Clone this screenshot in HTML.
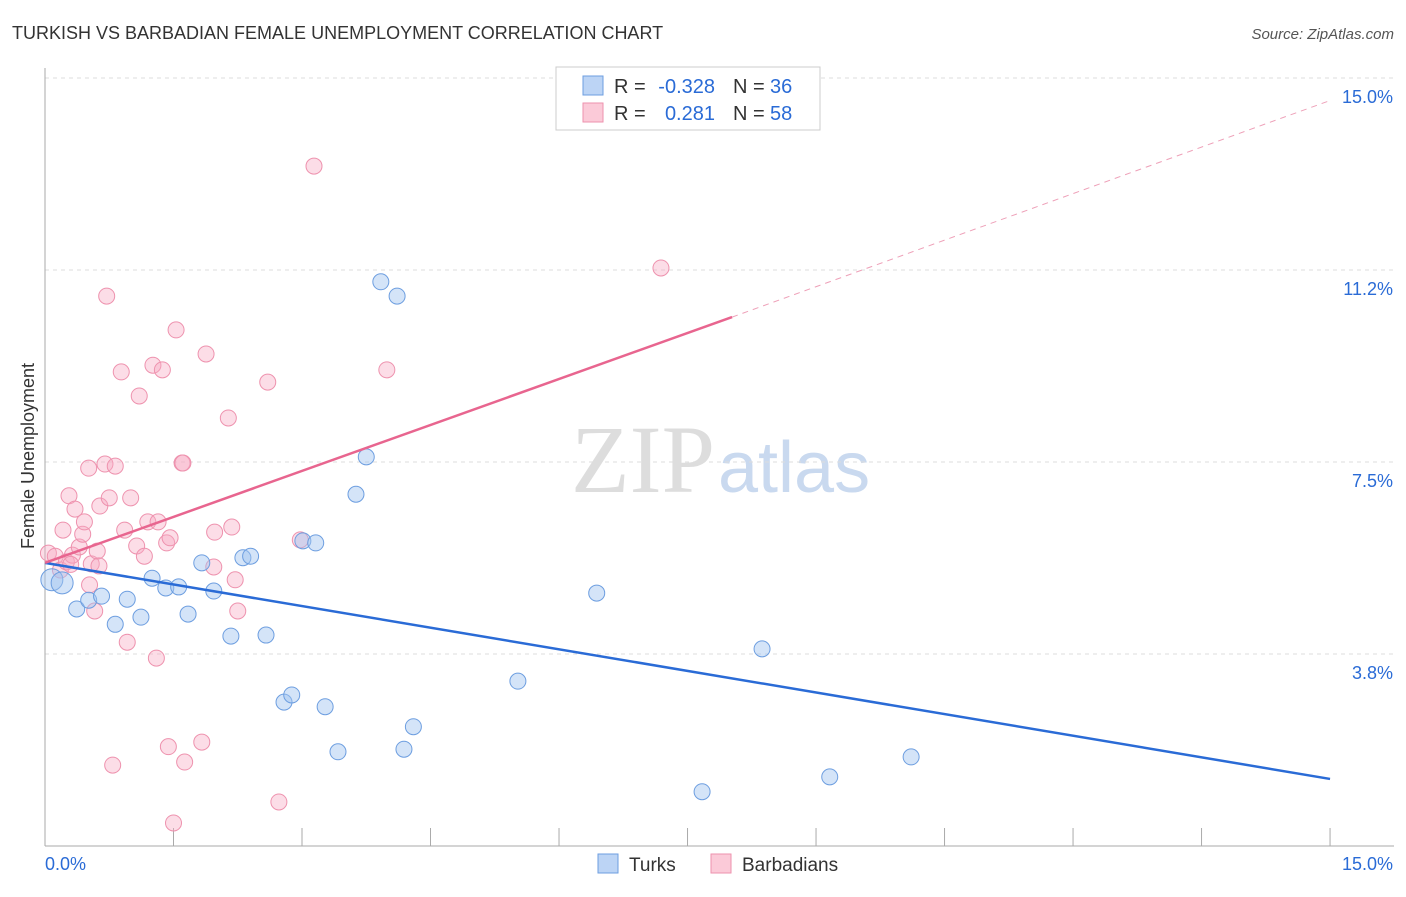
<!DOCTYPE html>
<html><head><meta charset="utf-8"><style>
body{margin:0;background:#fff;font-family:"Liberation Sans",sans-serif}
</style></head><body>
<svg id="chart" width="1406" height="892" xmlns="http://www.w3.org/2000/svg">
<text x="12" y="39" font-size="18" fill="#333">TURKISH VS BARBADIAN FEMALE UNEMPLOYMENT CORRELATION CHART</text>
<text x="1394" y="39" font-size="15" fill="#555" font-style="italic" text-anchor="end">Source: ZipAtlas.com</text>
<text x="715" y="492" font-size="96" fill="#ddd" text-anchor="end" font-family="Liberation Serif,serif">ZIP</text>
<text x="718" y="492" font-size="72" fill="#c9d9ef">atlas</text>
<text transform="translate(34,456) rotate(-90)" font-size="18" fill="#333" text-anchor="middle">Female Unemployment</text>
<g id="grid"></g><g id="pts"></g><g id="lines"></g>
<g>
<rect x="556" y="67" width="264" height="63" fill="#fff" stroke="#ccc"/>
<rect x="583" y="76" width="20" height="19" fill="#bcd4f5" stroke="#6d9ee0"/>
<rect x="583" y="103" width="20" height="19" fill="#fbcad8" stroke="#ee92ae"/>
<text x="614" y="93" font-size="20" fill="#333">R =</text>
<text x="715" y="93" font-size="20" fill="#2a6bd6" text-anchor="end">-0.328</text>
<text x="733" y="93" font-size="20" fill="#333">N =</text>
<text x="770" y="93" font-size="20" fill="#2a6bd6">36</text>
<text x="614" y="120" font-size="20" fill="#333">R =</text>
<text x="715" y="120" font-size="20" fill="#2a6bd6" text-anchor="end">0.281</text>
<text x="733" y="120" font-size="20" fill="#333">N =</text>
<text x="770" y="120" font-size="20" fill="#2a6bd6">58</text>
</g>
<g>
<rect x="598" y="854" width="20" height="19" fill="#bcd4f5" stroke="#6d9ee0"/>
<text x="629" y="871" font-size="19" fill="#333">Turks</text>
<rect x="711" y="854" width="20" height="19" fill="#fbcad8" stroke="#ee92ae"/>
<text x="742" y="871" font-size="19" fill="#333">Barbadians</text>
</g>
</svg>
<script>
const yTicks=[15.0,11.2,7.5,3.8];
const yTickVals=[15,11.25,7.5,3.75];
const xLabels=["0.0%","15.0%"];
const turksX=[0.08,0.2,0.37,0.51,0.66,0.82,0.96,1.12,1.25,1.41,1.56,1.67,1.83,1.97,2.17,2.31,2.4,2.58,2.79,2.88,3.01,3.16,3.27,3.42,3.63,3.75,3.92,4.11,4.19,4.3,5.52,6.44,7.67,8.37,9.16,10.11];
const turksY=[5.2,5.14,4.63,4.8,4.88,4.33,4.82,4.47,5.23,5.04,5.06,4.53,5.53,4.98,4.1,5.63,5.66,4.12,2.81,2.95,5.96,5.92,2.72,1.84,6.87,7.6,11.02,10.74,1.89,2.33,3.22,4.94,1.06,3.85,1.35,1.74];
const barbX=[0.04,0.12,0.18,0.21,0.25,0.28,0.32,0.3,0.35,0.4,0.44,0.46,0.54,0.51,0.58,0.61,0.64,0.7,0.72,0.75,0.79,0.82,0.89,0.93,0.96,1.0,1.07,1.1,1.16,1.2,1.26,1.3,1.32,1.37,1.42,1.44,1.46,1.5,1.53,1.6,1.61,1.63,1.83,1.88,1.98,1.97,2.14,2.18,2.22,2.25,2.6,2.73,2.98,3.14,3.99,7.19,0.52,0.63];
const barbY=[5.72,5.66,5.39,6.17,5.55,6.84,5.68,5.5,6.58,5.84,6.09,6.33,5.51,7.38,4.59,5.76,6.64,7.46,10.74,6.8,1.58,7.42,9.26,6.17,3.98,6.8,5.86,8.79,5.66,6.33,9.39,3.67,6.33,9.3,5.92,1.94,6.02,0.45,10.08,7.48,7.48,1.64,2.03,9.61,6.13,5.45,8.36,6.23,5.2,4.59,9.06,0.86,5.98,13.28,9.3,11.29,5.1,5.47];
const X=v=>45+v*85.67, Y=v=>846-v*51.2;
const NS="http://www.w3.org/2000/svg";
function mk(t,a,p){const e=document.createElementNS(NS,t);for(const k in a)e.setAttribute(k,a[k]);p.appendChild(e);return e;}
const g=document.getElementById('grid');
yTickVals.forEach((v,i)=>{
 const l=mk('line',{x1:45,x2:1394,y1:Y(v),y2:Y(v),stroke:'#ddd','stroke-dasharray':'4,4'},g);
 
 
 const t=mk('text',{x:1393,y:Y(v)+25,'font-size':18,fill:'#2a6bd6','text-anchor':'end'},g);
 t.textContent=yTicks[i].toFixed(1)+'%';
 
 
});
mk('line',{x1:45,x2:45,y1:68,y2:846,stroke:'#aaa'},g);
mk('line',{x1:45,x2:1394,y1:846,y2:846,stroke:'#aaa'},g);
for(let i=0;i<=10;i++){const tk=mk('line',{x1:X(i*1.5),x2:X(i*1.5),y1:828,y2:846,stroke:'#aaa'},g);
 
 }
[[0,45,'start'],[15,1393,'end']].forEach((a,i)=>{const t=mk('text',{x:a[1],y:870,'font-size':18,fill:'#2a6bd6','text-anchor':a[2]},g);t.textContent=xLabels[i];
 
 });
const p=document.getElementById('pts');
barbX.forEach((x,i)=>{const c=mk('circle',{cx:X(x),cy:Y(barbY[i]),r:8,fill:'rgba(248,170,195,0.4)',stroke:'#ee92ae','stroke-width':1},p);
 
 });
turksX.forEach((x,i)=>{const c=mk('circle',{cx:X(x),cy:Y(turksY[i]),r:i<2?11:8,fill:'rgba(160,195,240,0.45)',stroke:'#6d9ee0','stroke-width':1},p);
 
 });
const L=document.getElementById('lines');
const b=mk('line',{x1:X(0),y1:Y(5.53),x2:X(15),y2:Y(1.31),stroke:'#2a6bd6','stroke-width':2.5},L);


const pk=mk('line',{x1:X(0),y1:Y(5.53),x2:X(8.02),y2:Y(10.33),stroke:'#e8658f','stroke-width':2.5},L);


const pd=mk('line',{x1:X(8.02),y1:Y(10.33),x2:X(15),y2:Y(14.56),stroke:'#eea0b8','stroke-width':1,'stroke-dasharray':'6,5'},L);


</script>
</body></html>
